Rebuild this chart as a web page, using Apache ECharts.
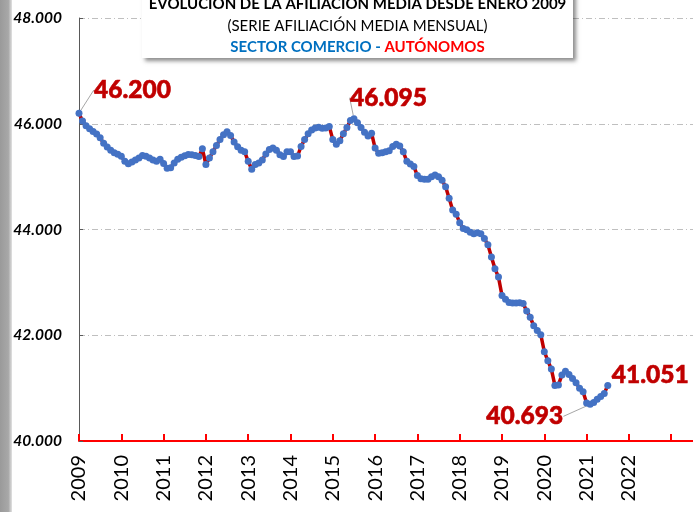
<!DOCTYPE html>
<html>
<head>
<meta charset="utf-8">
<script src="https://cdn.jsdelivr.net/npm/echarts@6/dist/echarts.min.js"></script>
<style>html,body{margin:0;padding:0;background:#fff}#c{width:693px;height:512px}</style>
</head>
<body>
<div id="c"></div>
<script>
// Monthly average affiliation, Jan 2009 .. Jul 2021
var startYear = 2009;
var values = [
  46200, 46050, 45960, 45905, 45855, 45805, 45735, 45630, 45560, 45500, 45450, 45425,
  45385, 45290, 45245, 45275, 45315, 45350, 45400, 45385, 45350, 45315, 45290, 45330,
  45250, 45160, 45170, 45260, 45330, 45365, 45395, 45420, 45415, 45400, 45380, 45525,
  45230, 45350, 45470, 45590, 45700, 45790, 45850, 45780, 45655, 45565, 45500, 45470,
  45290, 45140, 45230, 45260, 45315, 45430, 45515, 45540, 45500, 45415, 45380, 45470,
  45470, 45380, 45390, 45570, 45700, 45810, 45880, 45920, 45935, 45915, 45920, 45950,
  45700, 45610, 45680, 45810, 45930, 46060, 46095, 46020, 45930, 45840, 45770, 45820,
  45540, 45440, 45450, 45470, 45490, 45570, 45610, 45580, 45470, 45290, 45240, 45190,
  45020, 44960, 44950, 44950, 45000, 45030, 45000, 44930, 44810, 44590, 44370, 44290,
  44130, 44020, 43995, 43950, 43920, 43940, 43920, 43830, 43710, 43480, 43260, 43100,
  42750, 42680, 42620, 42610, 42610, 42615, 42600, 42460, 42340, 42180, 42090, 42010,
  41690, 41520, 41360, 41050, 41060, 41250, 41320, 41260, 41180, 41100, 41000, 40930,
  40720, 40693, 40730, 40790, 40840, 40900, 41051
];
var yearLabels = ['2009','2010','2011','2012','2013','2014','2015','2016','2017','2018','2019','2020','2021','2022'];
var yTicks = [40000, 42000, 44000, 46000, 48000];
var labelledIdx = [0, 78, 145, 150];
var titleLine1 = 'EVOLUCIÓN DE LA AFILIACIÓN MEDIA DESDE ENERO 2009';
var titleLine2 = '(SERIE AFILIACIÓN MEDIA MENSUAL)';
var titleBlue = 'SECTOR COMERCIO - ';
var titleRed = 'AUTÓNOMOS';

function fmt(v) {
  var s = String(Math.round(v));
  return s.replace(/\B(?=(\d{3})+(?!\d))/g, '.');
}

var seriesData = values.map(function (v, i) {
  var item = { value: [startYear + i / 12, v] };
  if (labelledIdx.indexOf(i) >= 0) {
    item.label = { show: true };
    item.labelLine = { show: i !== 150 };
  }
  return item;
});

var chart = echarts.init(document.getElementById('c'), null, { renderer: 'canvas' });
var FONT = 'Lato, "Liberation Sans", sans-serif';

chart.setOption({
  animation: false,
  backgroundColor: '#ffffff',
  grid: { left: 79, right: 0, top: 18, bottom: 71, containLabel: false },
  xAxis: {
    type: 'value',
    min: 2009,
    max: 2023.515,
    interval: 1,
    axisLine: { show: true, lineStyle: { color: '#FF0000', width: 2 } },
    axisTick: { show: true, inside: true, length: 7, lineStyle: { color: '#FF0000', width: 2 } },
    splitLine: { show: false },
    axisLabel: {
      rotate: 90,
      margin: 14,
      color: '#000',
      fontFamily: FONT,
      fontSize: 20,
      showMaxLabel: false,
      formatter: function (v) {
        var s = String(Math.round(v));
        return yearLabels.indexOf(s) >= 0 ? s : '';
      }
    }
  },
  yAxis: {
    type: 'value',
    min: yTicks[0],
    max: yTicks[yTicks.length - 1],
    interval: 2000,
    axisLine: { show: true, lineStyle: { color: '#595959', width: 1 } },
    axisTick: { show: true, inside: true, length: 4, lineStyle: { color: '#595959' } },
    splitLine: { show: true, lineStyle: { color: '#BFBFBF', width: 1, type: [6, 3, 1, 3] } },
    axisLabel: {
      margin: 17,
      color: '#000',
      fontFamily: FONT,
      fontWeight: 'bold',
      fontStyle: 'italic',
      fontSize: 15.5,
      formatter: function (v) { return fmt(v); }
    }
  },
  series: [{
    type: 'line',
    data: seriesData,
    symbol: 'circle',
    symbolSize: 7,
    showAllSymbol: true,
    lineStyle: { color: '#C00000', width: 3.5 },
    itemStyle: { color: '#4472C4' },
    z: 3,
    label: {
      show: false,
      color: '#C00000',
      fontFamily: FONT,
      fontWeight: 900,
      fontSize: 24.5,
      textBorderColor: '#C00000',
      textBorderWidth: 0.6,
      formatter: function (p) { return fmt(p.value[1]); }
    },
    labelLine: { show: true, lineStyle: { color: '#A6A6A6', width: 1 } },
    labelLayout: function (p) {
      var r = p.rect;
      var cx = r.x + r.width / 2, cy = r.y + r.height / 2;
      var i = p.dataIndex;
      if (i === 0) {
        return { x: cx + 15, y: cy - 23, align: 'left', verticalAlign: 'middle',
          labelLinePoints: [[cx, cy], [cx + 9, cy - 23], [cx + 13, cy - 23]] };
      }
      if (i === 78) {
        return { x: cx - 4, y: cy - 21, align: 'left', verticalAlign: 'middle',
          labelLinePoints: [[cx + 2, cy], [cx + 20, cy - 3], [cx + 34, cy - 5]] };
      }
      if (i === 145) {
        return { x: cx - 27, y: cy + 12, align: 'right', verticalAlign: 'middle',
          labelLinePoints: [[cx, cy], [cx - 12, cy + 7], [cx - 24, cy + 13]] };
      }
      if (i === 150) {
        return { x: cx + 4, y: cy - 10, align: 'left', verticalAlign: 'middle' };
      }
      return {};
    }
  }],
  graphic: [
    {
      type: 'rect', left: 0, top: 0, z: 10,
      shape: { width: 12, height: 512 },
      style: { fill: new echarts.graphic.LinearGradient(0, 0, 1, 0, [
        { offset: 0, color: '#9a9a9a' }, { offset: 0.7, color: '#a8a8a8' }, { offset: 1, color: '#e2e2e2' }
      ]) }
    },
    {
      type: 'rect', z: 10,
      shape: { x: 142, y: -12, width: 431, height: 70 },
      style: { fill: '#ffffff', shadowColor: 'rgba(0,0,0,0.45)', shadowBlur: 4, shadowOffsetX: 3, shadowOffsetY: 3 }
    },
    {
      type: 'text', z: 11,
      x: 357.5, y: 4,
      style: { text: titleLine1, fill: '#000', font: 'bold 15px ' + FONT, align: 'center', verticalAlign: 'middle' }
    },
    {
      type: 'text', z: 11,
      x: 357.5, y: 26,
      style: { text: titleLine2, fill: '#000', font: '15px ' + FONT, align: 'center', verticalAlign: 'middle' }
    },
    {
      type: 'text', z: 11,
      x: 357.5, y: 47,
      style: {
        text: '{b|' + titleBlue + '}{r|' + titleRed + '}',
        align: 'center', verticalAlign: 'middle',
        rich: {
          b: { fill: '#0070C0', font: 'bold 15px ' + FONT },
          r: { fill: '#FF0000', font: 'bold 15px ' + FONT }
        }
      }
    }
  ]
});
</script>
</body>
</html>
